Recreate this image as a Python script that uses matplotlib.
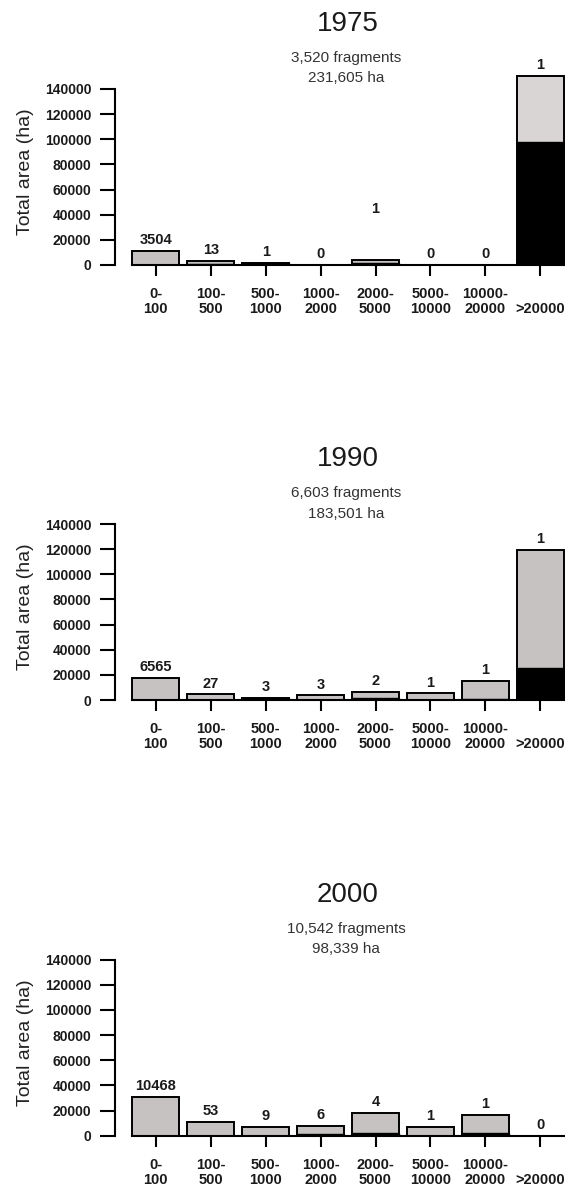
import numpy as np
import matplotlib
matplotlib.use('Agg')
import matplotlib.pyplot as plt

plt.rcParams['font.family'] = ['Liberation Sans', 'DejaVu Sans']

# size classes (ha)
classes = ['0-\n100', '100-\n500', '500-\n1000', '1000-\n2000', '2000-\n5000',
           '5000-\n10000', '10000-\n20000', '\n>20000']

years = ['1975', '1990', '2000']
n_fragments = [3520, 6603, 10542]
total_ha = [231605, 183501, 98339]

# number of fragments per class
counts_1975 = [3504, 13, 1, 0, 1, 0, 0, 1]
counts_1990 = [6565, 27, 3, 3, 2, 1, 1, 1]
counts_2000 = [10468, 53, 9, 6, 4, 1, 1, 0]

# total area per class (ha)
area_1975 = [11100, 3400, 1500, 0, 4200, 0, 0, 150300]
area_1990 = [17300, 4500, 1800, 3700, 6600, 5300, 15100, 119100]
area_2000 = [31000, 11100, 7100, 7900, 18000, 6900, 16400, 0]

# black (core) part of each bar (ha)
core_1975 = [0, 500, 1200, 0, 1600, 0, 0, 98100]
core_1990 = [0, 0, 1500, 0, 1500, 0, 1000, 25500]
core_2000 = [0, 0, 0, 1500, 2500, 0, 2500, 0]

counts = [counts_1975, counts_1990, counts_2000]
areas = [area_1975, area_1990, area_2000]
cores = [core_1975, core_1990, core_2000]

W, H = 565, 1188
fig = plt.figure(figsize=(W / 100, H / 100), dpi=100, facecolor='white')

# pixel y of the zero line for each panel, px per 140000
zero_px = [265, 700, 1135.7]
span_px = 176.0
ytop = 155000
gray = '#c6c2c2'
gray_light = '#d9d5d5'
label_lift = [{4: 29}, {}, {}]   # extra lift (pt) for odd count labels

x = np.arange(len(classes))
bw = 0.855

for k in range(3):
    h_px = span_px * ytop / 140000
    ax = fig.add_axes([115 / W, 1 - zero_px[k] / H, 450 / W, h_px / H])
    fills = [gray] * len(classes)
    if k == 0:
        fills[-1] = gray_light
    ax.bar(x, areas[k], width=bw, color=fills, edgecolor='black', linewidth=1.4, zorder=2)
    ax.bar(x, cores[k], width=bw, color='black', edgecolor='black', linewidth=1.0, zorder=3)

    for i in range(len(classes)):
        lift = 7.8 + label_lift[k].get(i, 0)
        ax.annotate(str(counts[k][i]), (x[i], areas[k][i]), xytext=(0, lift),
                    textcoords='offset points', ha='center', va='center',
                    fontsize=10.5, fontweight='bold', color='#1a1a1a')

    ax.set_xlim(-0.743, 7.45)
    ax.set_ylim(0, ytop)
    ax.set_yticks(np.arange(0, 140001, 20000))
    ax.set_xticks(x)
    ax.set_xticklabels(classes, fontsize=10.5, fontweight='bold', color='#1a1a1a',
                       linespacing=1.1)
    for lab in ax.get_yticklabels():
        lab.set_fontweight('bold')
        lab.set_fontsize(10)
        lab.set_color('#1a1a1a')
    ax.tick_params(axis='y', length=11, width=1.5, pad=6)
    ax.tick_params(axis='x', length=8, width=1.5, pad=8)

    for s in ['top', 'right']:
        ax.spines[s].set_visible(False)
    ax.spines['left'].set_bounds(0, 140000)
    ax.spines['left'].set_linewidth(1.5)
    ax.spines['bottom'].set_bounds(-bw / 2, 7.45)
    ax.spines['bottom'].set_linewidth(1.5)
    ax.patch.set_alpha(0)

    # title and totals
    top_px = zero_px[k] - span_px
    fig.text(348 / W, 1 - (top_px - 65) / H, years[k], ha='center', va='center',
             fontsize=20, color='#1a1a1a')
    fig.text(346 / W, 1 - (top_px - 31) / H, f'{n_fragments[k]:,} fragments',
             ha='center', va='center', fontsize=11, color='#333333')
    fig.text(346 / W, 1 - (top_px - 10.5) / H, f'{total_ha[k]:,} ha',
             ha='center', va='center', fontsize=11, color='#333333')

    fig.text(25 / W, 1 - (zero_px[k] - span_px / 2 - 5) / H, 'Total area (ha)',
             rotation=90, ha='center', va='center', fontsize=14, color='#222222')

fig.savefig('out.png', dpi=100, facecolor='white')
